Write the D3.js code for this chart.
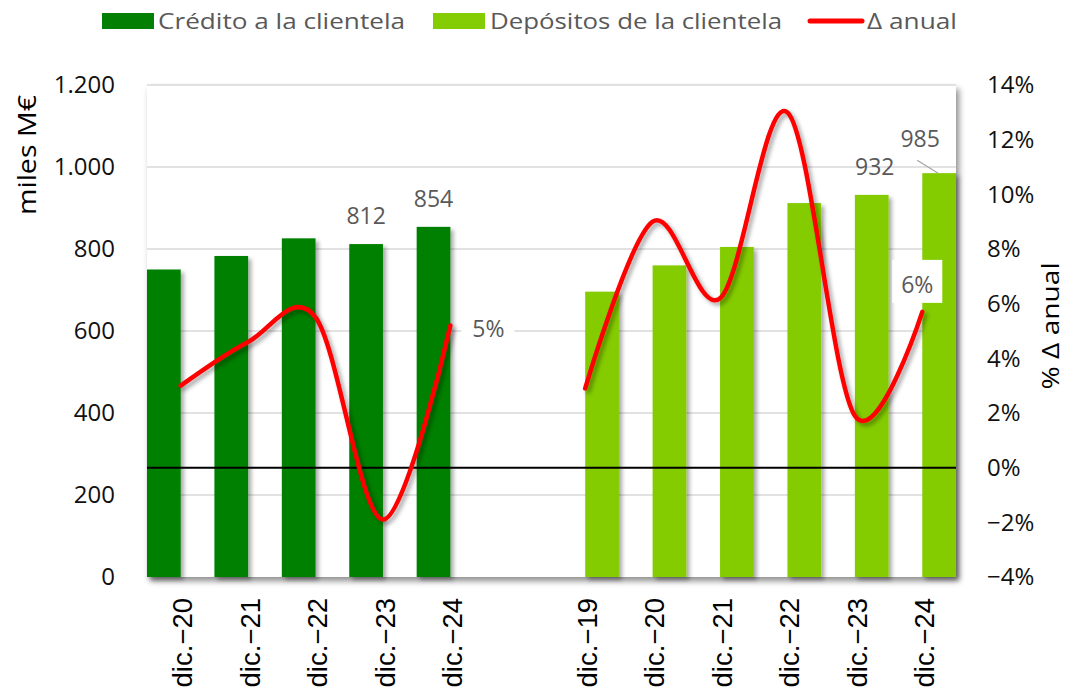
<!DOCTYPE html>
<html><head><meta charset="utf-8">
<script src="https://cdn.jsdelivr.net/npm/d3@7"></script>
<style>body{margin:0;background:#fff}</style>
</head><body><svg id="c" width="1066" height="693"></svg>
<script>
// ---- data ----
const categories = ["dic.−20","dic.−21","dic.−22","dic.−23","dic.−24","","dic.−19","dic.−20","dic.−21","dic.−22","dic.−23","dic.−24"];
const credito   = [750, 783, 826, 812, 854, null, null, null, null, null, null, null];
const depositos = [null, null, null, null, null, null, 696, 760, 805, 912, 932, 985];
const deltaAnual = [3.0, 4.6, 5.5, -1.9, 5.2, null, 2.9, 9.0, 6.2, 13.0, 1.9, 5.7];
const creditoLabeled = [3, 4];
const depositosLabeled = [10, 11];
const deltaLabeled = [4, 11];
const leftTicks = [0, 200, 400, 600, 800, 1000, 1200];
const rightTicks = [-4, -2, 0, 2, 4, 6, 8, 10, 12, 14];
const seriesNames = ["Crédito a la clientela", "Depósitos de la clientela", "Δ anual"];

// ---- layout ----
const FONT = "'Open Sans', 'DejaVu Sans', sans-serif";
const L = 147, R = 956, T = 85, B = 577;
const cDark = "#038003", cLight = "#84cc04", cRed = "#ff0000";
const svg = d3.select("#c");

const defs = svg.append("defs");
const f1 = defs.append("filter").attr("id","sh").attr("x","-20%").attr("y","-20%").attr("width","150%").attr("height","150%");
f1.append("feDropShadow").attr("dx",3).attr("dy",3).attr("stdDeviation",2.2).attr("flood-color","#000").attr("flood-opacity",0.35);
const f2 = defs.append("filter").attr("id","shp").attr("x","-5%").attr("y","-5%").attr("width","110%").attr("height","115%");
f2.append("feDropShadow").attr("dx",3).attr("dy",4).attr("stdDeviation",3).attr("flood-color","#000").attr("flood-opacity",0.45);

const x = d3.scaleBand().domain(d3.range(categories.length)).range([L, R]).padding(0);
const bw = x.bandwidth() / 2;
const yL = d3.scaleLinear().domain([0, 1200]).range([B, T]);
const yR = d3.scaleLinear().domain([-4, 14]).range([B, T]);

// plot area
svg.append("rect").attr("x", L).attr("y", T).attr("width", R - L).attr("height", B - T)
  .attr("fill", "#fff").attr("filter", "url(#shp)");

// gridlines
svg.append("g").selectAll("line").data(leftTicks.filter(d => d > 0)).join("line")
  .attr("x1", L).attr("x2", R).attr("y1", d => yL(d)).attr("y2", d => yL(d))
  .attr("stroke", "#d9d9d9").attr("stroke-width", 1.5);

// bars
const bars = svg.append("g").attr("filter", "url(#sh)");
bars.selectAll(".bc").data(credito.map((v, i) => ({v, i})).filter(d => d.v != null)).join("rect")
  .attr("x", d => x(d.i)).attr("width", bw)
  .attr("y", d => yL(d.v)).attr("height", d => yL(0) - yL(d.v)).attr("fill", cDark);
bars.selectAll(".bd").data(depositos.map((v, i) => ({v, i})).filter(d => d.v != null)).join("rect")
  .attr("x", d => x(d.i) + bw).attr("width", bw)
  .attr("y", d => yL(d.v)).attr("height", d => yL(0) - yL(d.v)).attr("fill", cLight);

// zero line (right axis)
svg.append("line").attr("x1", L).attr("x2", R).attr("y1", yR(0)).attr("y2", yR(0))
  .attr("stroke", "#000").attr("stroke-width", 2);

// delta line
const line = d3.line().defined(d => d.v != null)
  .x(d => x(d.i) + x.bandwidth() / 2).y(d => yR(d.v))
  .curve(d3.curveCardinal.tension(0));
svg.append("path").datum(deltaAnual.map((v, i) => ({v, i})))
  .attr("d", line).attr("fill", "none").attr("stroke", cRed).attr("stroke-width", 4.5)
  .attr("stroke-linecap", "round").attr("filter", "url(#sh)");

// data labels
const lblColor = "#595959";
const bl = svg.append("g").attr("font-family", FONT).attr("font-size", 23).attr("fill", lblColor).attr("text-anchor", "middle");
creditoLabeled.forEach(i => {
  bl.append("text").attr("x", x(i) + bw / 2).attr("y", yL(credito[i]) - 20).text(credito[i]);
});
depositosLabeled.forEach((i, k) => {
  const cx = x(i) + bw * 1.5, top = yL(depositos[i]);
  if (k === 0) {
    bl.append("text").attr("x", cx + 3).attr("y", top - 20).text(depositos[i]);
  } else {
    bl.append("line").attr("x1", cx - 22).attr("y1", top - 13).attr("x2", cx - 1).attr("y2", top)
      .attr("stroke", "#a6a6a6").attr("stroke-width", 1.2);
    bl.append("text").attr("x", cx - 19).attr("y", top - 26).text(depositos[i]);
  }
});
deltaLabeled.forEach((i, k) => {
  const px = x(i) + x.bandwidth() / 2, py = yR(deltaAnual[i]);
  const t = Math.round(deltaAnual[i]) + "%";
  if (k === 0) {
    bl.append("rect").attr("x", px + 11).attr("y", py - 12).attr("width", 53).attr("height", 32).attr("fill", "#fff");
    bl.append("text").attr("x", px + 38).attr("y", py + 11).text(t);
  } else {
    bl.append("rect").attr("x", px - 30).attr("y", py - 52).attr("width", 50).attr("height", 43).attr("fill", "#fff");
    bl.append("text").attr("x", px - 5).attr("y", py - 19).text(t);
  }
});

// axes
const fmt = d3.formatLocale({decimal: ",", thousands: ".", grouping: [3], currency: ["", "€"]}).format(",d");
const ax1 = svg.append("g").attr("transform", `translate(${L},0)`)
  .call(d3.axisLeft(yL).tickValues(leftTicks).tickFormat(fmt).tickSize(0).tickPadding(32));
const ax2 = svg.append("g").attr("transform", `translate(${R},0)`)
  .call(d3.axisRight(yR).tickValues(rightTicks).tickFormat(d => (d < 0 ? "−" : "") + Math.abs(d) + "%").tickSize(0).tickPadding(31));
[ax1, ax2].forEach(a => {
  a.select(".domain").remove();
  a.selectAll("text").attr("font-family", FONT).attr("font-size", 24).attr("fill", "#111");
});
const ax3 = svg.append("g").attr("transform", `translate(0,${B})`)
  .call(d3.axisBottom(x).tickFormat(i => categories[i]).tickSize(0));
ax3.select(".domain").remove();
ax3.selectAll("text").attr("font-family", "'Liberation Sans', Arial, sans-serif").attr("font-size", 27.5).attr("fill", "#000")
  .attr("transform", "rotate(-90)").attr("text-anchor", "end").attr("x", -21).attr("y", 2).attr("dy", "0.35em");

// axis titles
svg.append("text").attr("transform", "translate(36,155) rotate(-90)").attr("text-anchor", "middle")
  .attr("font-family", FONT).attr("font-size", 26).attr("fill", "#000")
  .attr("textLength", 120).attr("lengthAdjust", "spacingAndGlyphs").text("miles M€");
svg.append("text").attr("transform", "translate(1059,326) rotate(-90)").attr("text-anchor", "middle")
  .attr("font-family", FONT).attr("font-size", 24).attr("fill", "#000")
  .attr("textLength", 127).attr("lengthAdjust", "spacingAndGlyphs").text("% Δ anual");

// legend
const lg = svg.append("g").attr("font-family", FONT).attr("font-size", 22).attr("fill", lblColor);
lg.append("rect").attr("x", 102).attr("y", 13).attr("width", 52).attr("height", 16).attr("fill", cDark);
lg.append("text").attr("x", 158).attr("y", 29).attr("textLength", 247).attr("lengthAdjust", "spacingAndGlyphs").text(seriesNames[0]);
lg.append("rect").attr("x", 433).attr("y", 13).attr("width", 52).attr("height", 16).attr("fill", cLight);
lg.append("text").attr("x", 490).attr("y", 29).attr("textLength", 292).attr("lengthAdjust", "spacingAndGlyphs").text(seriesNames[1]);
lg.append("line").attr("x1", 810).attr("x2", 862).attr("y1", 21).attr("y2", 21).attr("stroke", cRed)
  .attr("stroke-width", 5).attr("stroke-linecap", "round");
lg.append("text").attr("x", 867).attr("y", 29).attr("textLength", 90).attr("lengthAdjust", "spacingAndGlyphs").text(seriesNames[2]);
</script></body></html>
